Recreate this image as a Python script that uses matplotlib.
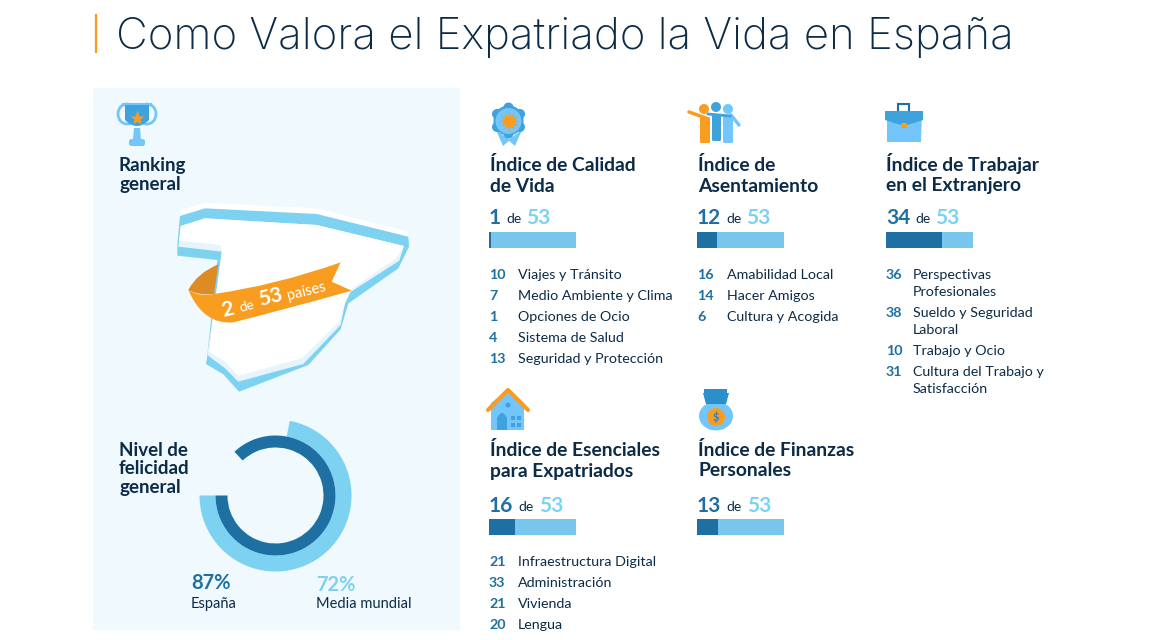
import matplotlib
matplotlib.use('Agg')
import matplotlib.pyplot as plt
from matplotlib.patches import Polygon, Circle, Rectangle, PathPatch, FancyBboxPatch, Ellipse
from matplotlib.path import Path

plt.rcParams['font.family'] = ['Lato', 'DejaVu Sans']

# data
total = 53
overall_rank = 2
happiness_values = [87, 72]
happiness_labels = ['España', 'Media mundial']

index_titles = [
    'Índice de Calidad\nde Vida',
    'Índice de\nAsentamiento',
    'Índice de Trabajar\nen el Extranjero',
    'Índice de Esenciales\npara Expatriados',
    'Índice de Finanzas\nPersonales',
]
index_ranks = [1, 12, 34, 16, 13]

calidad_ranks = [10, 7, 1, 4, 13]
calidad_names = ['Viajes y Tránsito', 'Medio Ambiente y Clima', 'Opciones de Ocio',
                 'Sistema de Salud', 'Seguridad y Protección']
asentamiento_ranks = [16, 14, 6]
asentamiento_names = ['Amabilidad Local', 'Hacer Amigos', 'Cultura y Acogida']
trabajo_ranks = [36, 38, 10, 31]
trabajo_names = ['Perspectivas\nProfesionales', 'Sueldo y Seguridad\nLaboral',
                 'Trabajo y Ocio', 'Cultura del Trabajo y\nSatisfacción']
esenciales_ranks = [21, 33, 21, 20]
esenciales_names = ['Infraestructura Digital', 'Administración', 'Vivienda', 'Lengua']

NAVY = '#0c2b47'
BLUE = '#1e6fa2'
LIGHT = '#7dd1f1'
BAR_LIGHT = '#78c6ee'
ORANGE = '#f99d20'
ICON1 = '#3fa2dc'
ICON2 = '#72c6fb'
PANEL = '#f0f9fe'

fig = plt.figure(figsize=(11.52, 6.4), dpi=100)
ax = fig.add_axes([0, 0, 1, 1])
ax.set_xlim(0, 1152)
ax.set_ylim(640, 0)
ax.axis('off')


def poly(pts, color, z=2):
    ax.add_patch(Polygon(pts, closed=True, fc=color, ec='none', zorder=z))


def txt(x, y, s, size, color=NAVY, weight='normal', **kw):
    kw.setdefault('va', 'center')
    return ax.text(x, y, s, fontsize=size, color=color, fontweight=weight, zorder=6, **kw)


# title
ax.plot([95.5, 95.5], [15, 52], color=ORANGE, lw=1.6)
txt(116, 37, 'Como Valora el Expatriado la Vida en España', 31.5, family='Inter', weight='light')

# left panel
ax.add_patch(Rectangle((93, 88), 367, 542, fc=PANEL, ec='none', zorder=0))
txt(119, 175, 'Ranking\ngeneral', 13.5, weight='bold', linespacing=1.1)
txt(119, 469, 'Nivel de\nfelicidad\ngeneral', 13.5, weight='bold', linespacing=1.12)

# trophy
ax.add_patch(Ellipse((127, 114), 18, 20, fc='none', ec=ICON2, lw=2, zorder=2))
ax.add_patch(Ellipse((147, 114), 18, 20, fc='none', ec=ICON2, lw=2, zorder=2))
poly([(122, 103), (152, 103), (152, 106), (122, 106)], ICON2, 3)
poly([(134, 128), (140, 128), (141, 140), (133, 140)], ICON2, 2)
ax.add_patch(PathPatch(Path([(125, 105), (149, 105), (149, 120), (137, 132), (125, 120), (125, 105)],
                            [1, 2, 2, 3, 3, 79]), fc=ICON1, ec='none', zorder=3))
ax.add_patch(FancyBboxPatch((129, 139), 16, 7, boxstyle='round,pad=0,rounding_size=2.5', fc=ICON2, ec='none', zorder=3))
ax.plot([137], [118], marker='*', ms=11, color=ORANGE, mec='none', zorder=4)


# map of Spain, outline taken from the 3x crop
def zp(pts):
    return [(90 + x / 3, 90 + y / 3) for x, y in pts]


poly(zp([(270, 378), (272, 360), (345, 338), (680, 355), (952, 425), (955, 442)]), 'white', 1)
poly(zp([(270, 378), (345, 355), (680, 372), (955, 440), (957, 470), (925, 535), (775, 640), (752, 718),
         (655, 825), (447, 905), (400, 853), (348, 822), (352, 795), (382, 510), (262, 497), (262, 465)]), LIGHT, 2)
poly(zp([(272, 408), (345, 385), (680, 405), (942, 468), (928, 512), (782, 606), (765, 640), (752, 705),
         (640, 822), (445, 875), (405, 835), (352, 795), (395, 485), (265, 470)]), '#e6f4fb', 3)
poly(zp([(272, 408), (345, 385), (680, 405), (942, 468), (918, 505), (780, 600), (765, 640), (748, 695),
         (635, 805), (445, 858), (405, 815), (357, 785), (396, 482), (390, 465), (268, 452)]), 'white', 3)

ax.add_patch(PathPatch(Path(zp([(385, 523), (320, 550), (295, 600), (330, 618), (372, 612), (385, 523)]),
                            [1, 3, 3, 3, 3, 79]), fc='#dd8b25', ec='none', zorder=4))
ax.add_patch(PathPatch(Path(zp([(295, 600), (330, 622), (372, 612), (560, 585), (752, 517), (725, 575), (785, 602),
                                (560, 665), (430, 697), (340, 705), (295, 600), (295, 600)]),
                            [1, 3, 3, 3, 3, 2, 2, 3, 3, 3, 3, 79]), fc=ORANGE, ec='none', zorder=4))
rib = zp([(413, 660), (470, 649), (541, 622), (650, 605)])
txt(*rib[0], str(overall_rank), 15, 'white', 'bold', rotation=14, ha='center')
txt(*rib[1], 'de', 10, 'white', rotation=14, ha='center')
txt(*rib[2], str(total), 15, 'white', 'bold', rotation=14, ha='center')
txt(*rib[3], 'países', 10.5, 'white', rotation=14, ha='center')

# happiness rings, both start at nine o'clock
ring = fig.add_axes([(275.5 - 80) / 1152, (640 - 495.5 - 80) / 640, 160 / 1152, 160 / 640])
ring.pie([happiness_values[1], 100 - happiness_values[1]], colors=[LIGHT, 'none'], startangle=180, radius=76,
         wedgeprops={'width': 16}, frame=False)
ring.pie([happiness_values[0], 100 - happiness_values[0]], colors=[BLUE, 'none'], startangle=180, radius=60,
         wedgeprops={'width': 12}, frame=False)
ring.set_xlim(-80, 80)
ring.set_ylim(-80, 80)
ring.axis('off')
ring.patch.set_alpha(0)

txt(191, 583, f'{happiness_values[0]}%', 14.5, BLUE, 'bold')
txt(191, 604, happiness_labels[0], 10.5)
txt(316, 585, f'{happiness_values[1]}%', 14.5, LIGHT, 'bold')
txt(316, 604, happiness_labels[1], 10.5)

# cards
card_x = [489, 697, 886, 489, 697]
head_x = [490, 698, 886, 490, 698]
head_y = [171, 171, 171, 456, 456]
score_y = [218, 218, 218, 506, 506]
bar_y = [240, 240, 240, 527, 527]
bar_w = 87
r = fig.canvas.get_renderer()

for i in range(5):
    for j, line in enumerate(index_titles[i].split('\n')):
        txt(head_x[i], head_y[i] + 20.5 * j, line, 13.9, weight='bold', va='baseline')
    a = txt(card_x[i], score_y[i], str(index_ranks[i]), 15, BLUE, 'bold')
    x1 = a.get_window_extent(r).x1 + 5
    b = txt(x1, score_y[i] + 1, 'de', 10)
    x2 = b.get_window_extent(r).x1 + 5
    txt(x2, score_y[i], str(total), 15, LIGHT, 'bold')

ax.barh(bar_y, [bar_w] * 5, left=card_x, height=16, color=BAR_LIGHT, zorder=2)
ax.barh(bar_y, [v / total * bar_w for v in index_ranks], left=card_x, height=16, color=BLUE, zorder=3)


def rank_list(x, x_name, ys, ranks, names):
    for y, rank, name in zip(ys, ranks, names):
        txt(x, y, str(rank), 10.3, BLUE, 'bold')
        for j, line in enumerate(name.split('\n')):
            txt(x_name, y + 17 * j, line, 10.3)


rank_list(489, 518, [275, 296, 317, 338, 359], calidad_ranks, calidad_names)
rank_list(697, 727, [275, 296, 317], asentamiento_ranks, asentamiento_names)
rank_list(886, 913, [275, 313, 351, 372], trabajo_ranks, trabajo_names)
rank_list(489, 518, [562, 583, 604, 625], esenciales_ranks, esenciales_names)

# badge icon
poly([(496, 130), (503, 146), (510, 140)], ICON2, 2)
poly([(522, 130), (515, 146), (508, 140)], ICON2, 2)
ax.add_patch(Circle((508.5, 120.5), 15, fc=ICON1, ec='none', zorder=3))
for bx, by in [(508.5, 107.5), (520, 114), (520, 127), (508.5, 133.5), (497, 127), (497, 114)]:
    ax.add_patch(Circle((bx, by), 5, fc=ICON1, ec='none', zorder=3))
ax.add_patch(Circle((508.5, 121), 13, fc=ICON2, ec='none', zorder=4))
ax.plot([508.5], [121], marker=(12, 1, 0), ms=15, color=ORANGE, mec='none', zorder=5)

# people icon
ax.add_patch(Circle((704, 109), 5, fc=ORANGE, zorder=4))
ax.add_patch(Circle((716, 107), 5, fc=ICON1, zorder=3))
ax.add_patch(Circle((728, 109), 5, fc=ICON2, zorder=3))
ax.add_patch(FancyBboxPatch((700, 117), 10, 26, boxstyle='round,pad=0,rounding_size=1.5', fc=ORANGE, ec='none', zorder=4))
ax.add_patch(FancyBboxPatch((712, 114), 9, 27, boxstyle='round,pad=0,rounding_size=1.5', fc=ICON1, ec='none', zorder=3))
ax.add_patch(FancyBboxPatch((723, 116), 10, 27, boxstyle='round,pad=0,rounding_size=1.5', fc=ICON2, ec='none', zorder=2))
ax.plot([689, 706], [112, 118], color=ORANGE, lw=2.5, solid_capstyle='round', zorder=5)
ax.plot([708, 730], [114, 116], color=ICON1, lw=2, zorder=3)
ax.plot([731, 739], [115, 125], color=ICON2, lw=2.5, solid_capstyle='round', zorder=2)

# briefcase icon
ax.add_patch(Rectangle((898, 104), 11, 9, fc='none', ec=BLUE, lw=1.5, zorder=2))
poly([(887, 111), (922, 111), (921, 142), (887, 142)], ICON2, 3)
poly([(885, 111), (923, 111), (923, 120), (904, 126), (885, 120)], ICON1, 4)
ax.add_patch(Rectangle((901, 123), 6, 5, fc=ORANGE, ec='none', zorder=5))

# house icon
poly([(491, 403), (508, 390), (524, 403), (524, 430), (491, 430)], ICON2, 2)
ax.plot([488, 508, 528], [410, 390, 410], color=ORANGE, lw=3, solid_capstyle='round', zorder=3)
ax.add_patch(Circle((508, 405), 2.5, fc=ICON1, ec='none', zorder=3))
ax.add_patch(PathPatch(Path([(497, 430), (497, 418), (502, 408), (507, 418), (507, 430), (497, 430)], [1, 2, 3, 3, 2, 79]),
                       fc=ICON1, ec='none', zorder=3))
for wx in (511, 517):
    for wy in (416, 423):
        ax.add_patch(Rectangle((wx, wy), 4, 4, fc=ICON1, ec='none', zorder=3))

# money bag icon
poly([(704, 389), (727, 389), (727, 393), (729, 393), (726, 404), (706, 404), (703, 393), (704, 393)], '#2a8fca', 3)
ax.add_patch(Ellipse((716, 416), 34, 29, fc=ICON2, ec='none', zorder=2))
ax.add_patch(Circle((716, 417), 9, fc=ORANGE, ec='none', zorder=4))
txt(716, 417, '$', 8, '#2a7fc0', 'bold', ha='center')

fig.savefig('out.png', dpi=100, facecolor='white')
